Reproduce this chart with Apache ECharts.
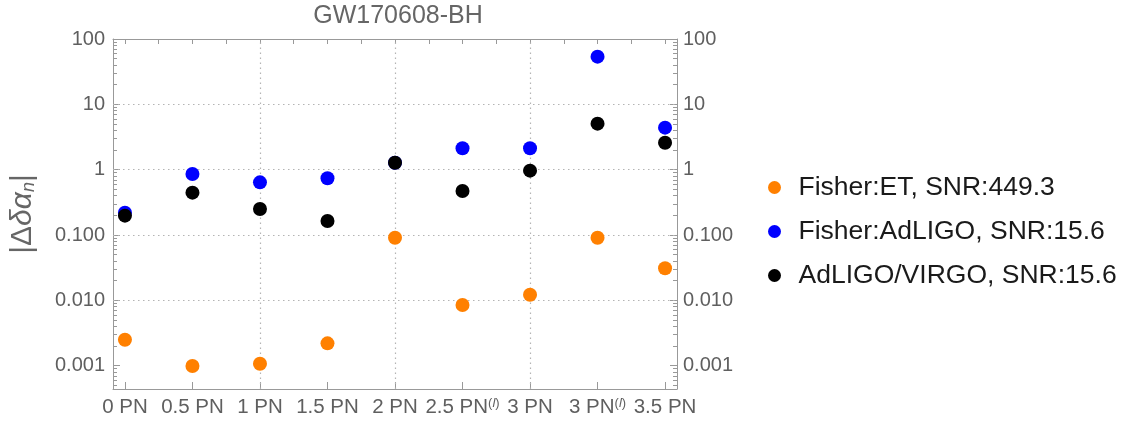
<!DOCTYPE html>
<html>
<head>
<meta charset="utf-8">
<script src="https://cdn.jsdelivr.net/npm/echarts@6/dist/echarts.min.js"></script>
<style>html,body{margin:0;padding:0;background:#fff}#c{width:1128px;height:425px}</style>
</head>
<body>
<div id="c"></div>
<script>
const categories = ['0 PN','0.5 PN','1 PN','1.5 PN','2 PN','2.5 PN(l)','3 PN','3 PN(l)','3.5 PN'];
const seriesNames = ['Fisher:ET, SNR:449.3','Fisher:AdLIGO, SNR:15.6','AdLIGO/VIRGO, SNR:15.6'];
const fisherET     = [0.0025, 0.00099, 0.00107, 0.0022, 0.091, 0.0085, 0.0122, 0.091, 0.031];
const fisherAdLIGO = [0.22, 0.86, 0.64, 0.74, 1.28, 2.13, 2.13, 53.7, 4.4];
const adligoVirgo  = [0.198, 0.445, 0.25, 0.164, 1.28, 0.472, 0.966, 5.06, 2.59];
const yTickValues = [0.001, 0.01, 0.1, 1, 10, 100];
const yTickLabels = ['0.001', '0.010', '0.100', '1', '10', '100'];
const yGridValues = [0.001, 0.01, 0.1, 1, 10];
const xGridValues = [2, 4, 6];
const colors = ['#FF8000', '#0000FF', '#000000'];

const yMinorValues = [];
[0.0001, 0.001, 0.01, 0.1, 1, 10].forEach(d => { for (let k = 2; k <= 9; k++) { const v = +(d * k).toPrecision(3); if (v > 0.00044 && v < 100) yMinorValues.push(v); } });
const xIdx = categories.map((c, i) => i);
const xHalf = [];
for (let i = 0; i <= 16; i++) xHalf.push(i / 2);

const XMIN = -0.177, XMAX = 8.177, YMIN = 0.00044, YMAX = 100;
const frameColor = '#999999';
const labelColor = '#5f5f5f';
const gridColor = '#b4b4b4';
const FONT = 'Arial';

function xLabel(v) {
  const c = categories[Math.round(v)];
  if (c === undefined) return '';
  if (c.endsWith('(l)')) return c.slice(0, -3) + '{sup|(}{supi|l}{sup|)}';
  return c;
}
function yLabel(v) {
  const i = yTickValues.findIndex(t => Math.abs(Math.log10(t) - Math.log10(v)) < 1e-6);
  return i < 0 ? '' : yTickLabels[i];
}

const chart = echarts.init(document.getElementById('c'));
const hidden = { show: false };
const frameLine = { show: true, onZero: false, lineStyle: { color: frameColor, width: 1 } };
const noLine = { show: false, onZero: false };
const gridLineStyle = { color: gridColor, width: 1.2, type: [1.5, 3.5] };
chart.setOption({
  animation: false,
  textStyle: { fontFamily: FONT },
  title: { text: 'GW170608-BH', left: 393, top: -1, textAlign: 'center',
    textStyle: { fontSize: 25, fontWeight: 'normal', color: '#666', fontFamily: FONT } },
  legend: {
    orient: 'vertical', left: 763, top: 169, itemWidth: 38, itemHeight: 13, itemGap: 17,
    icon: 'circle', data: seriesNames,
    textStyle: { fontSize: 26.5, color: '#1a1a1a', fontFamily: FONT }
  },
  grid: { left: 110, right: 451, top: 39, bottom: 36, containLabel: false },
  xAxis: [
    { type: 'value', position: 'bottom', min: XMIN, max: XMAX,
      axisLine: frameLine,
      axisTick: { show: true, inside: true, length: 7, customValues: xIdx, lineStyle: { color: frameColor } },
      axisLabel: { show: true, customValues: xIdx, margin: 8, fontSize: 20.5, color: labelColor, fontFamily: FONT,
        formatter: xLabel,
        rich: { sup: { fontSize: 13, color: labelColor, verticalAlign: 'top', padding: [0,0,8,0] },
                supi: { fontSize: 13, fontStyle: 'italic', color: labelColor, verticalAlign: 'top', padding: [0,0,8,0] } } },
      splitLine: hidden },
    { type: 'value', position: 'top', min: XMIN, max: XMAX,
      axisLine: frameLine,
      axisTick: { show: true, inside: true, length: 5, customValues: xHalf, lineStyle: { color: frameColor } },
      axisLabel: hidden, splitLine: hidden }
  ],
  yAxis: [
    { type: 'log', position: 'left', min: YMIN, max: YMAX,
      axisLine: frameLine,
      axisTick: { show: true, inside: true, length: 7, customValues: yTickValues, lineStyle: { color: frameColor } },
      axisLabel: { show: true, customValues: yTickValues, margin: 8, fontSize: 20, color: labelColor, fontFamily: FONT,
        formatter: yLabel },
      splitLine: hidden,
      name: '|Δ{i|δα}{s|n}|', nameLocation: 'middle', nameGap: 75, nameRotate: 90,
      nameTextStyle: { fontSize: 30, color: '#666', fontFamily: FONT,
        rich: { i: { fontSize: 30, fontStyle: 'italic', color: '#666' },
                s: { fontSize: 18, fontStyle: 'italic', color: '#666', verticalAlign: 'bottom', padding: [10,0,0,0] } } } },
    { type: 'log', position: 'left', min: YMIN, max: YMAX,
      axisLine: noLine,
      axisTick: { show: true, inside: true, length: 4, customValues: yMinorValues, lineStyle: { color: frameColor } },
      axisLabel: { show: false, customValues: yMinorValues }, splitLine: hidden },
    { type: 'log', position: 'right', min: YMIN, max: YMAX,
      axisLine: frameLine,
      axisTick: { show: true, inside: true, length: 7, customValues: yTickValues, lineStyle: { color: frameColor } },
      axisLabel: { show: true, customValues: yTickValues, margin: 6, fontSize: 20, color: labelColor, fontFamily: FONT,
        formatter: yLabel },
      splitLine: hidden },
    { type: 'log', position: 'right', min: YMIN, max: YMAX,
      axisLine: noLine,
      axisTick: { show: true, inside: true, length: 4, customValues: yMinorValues, lineStyle: { color: frameColor } },
      axisLabel: { show: false, customValues: yMinorValues }, splitLine: hidden }
  ],
  series: [
    { name: seriesNames[0], type: 'scatter', symbolSize: 14, z: 3, itemStyle: { color: colors[0], opacity: 1 },
      data: fisherET.map((v, i) => [i, v]),
      markLine: { silent: true, symbol: 'none', label: { show: false }, z: 1,
        lineStyle: gridLineStyle,
        data: xGridValues.map(v => ({ xAxis: v })).concat(yGridValues.map(v => ({ yAxis: v }))) } },
    { name: seriesNames[1], type: 'scatter', symbolSize: 14, z: 4, itemStyle: { color: colors[1], opacity: 1 },
      data: fisherAdLIGO.map((v, i) => [i, v]) },
    { name: seriesNames[2], type: 'scatter', symbolSize: 14, z: 5, itemStyle: { color: colors[2], opacity: 1 },
      data: adligoVirgo.map((v, i) => [i, v]) }
  ]
});
</script>
</body>
</html>
